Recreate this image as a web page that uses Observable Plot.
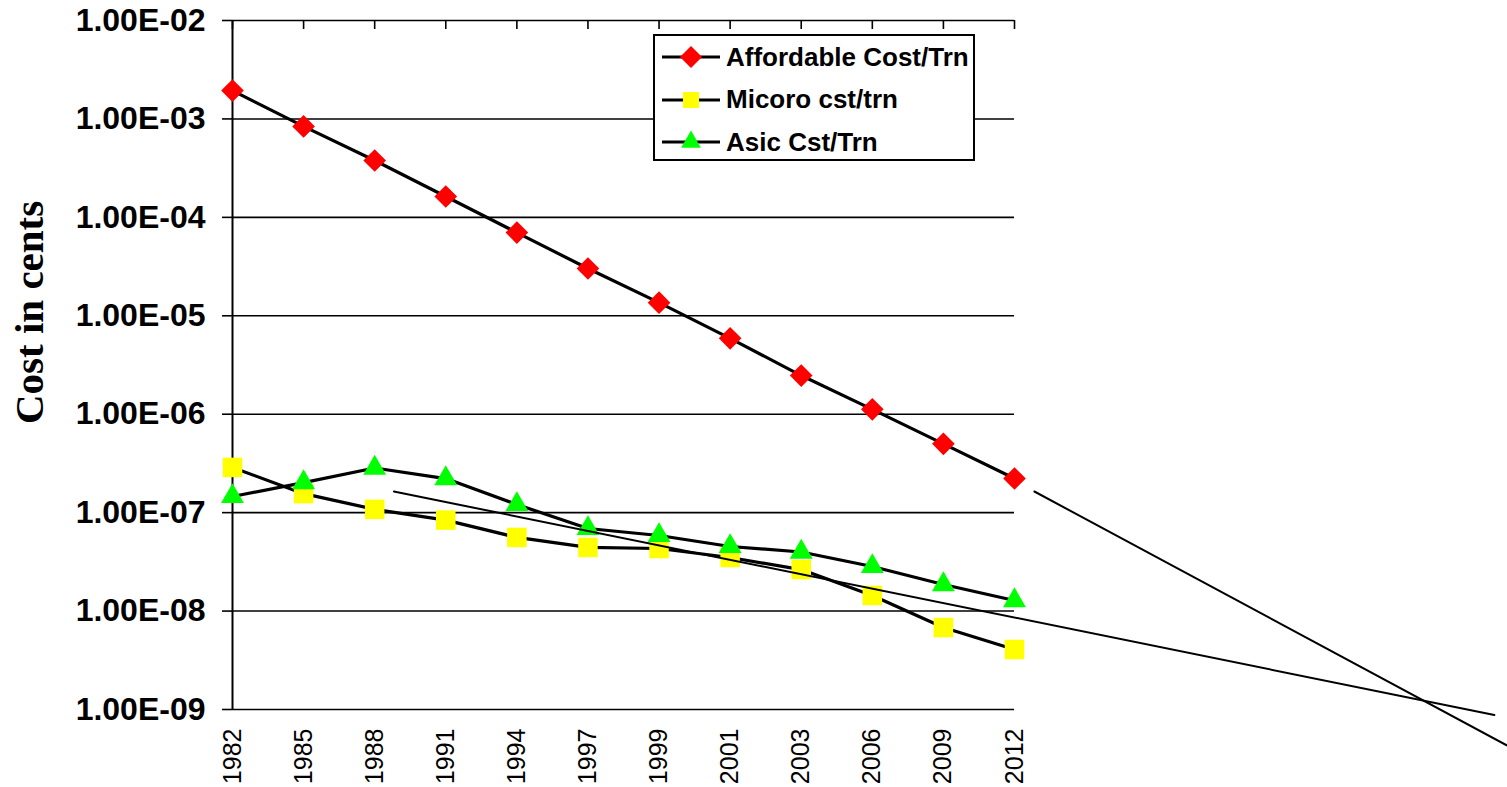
<!DOCTYPE html>
<html><head><meta charset="utf-8">
<script src="https://cdn.jsdelivr.net/npm/d3@7"></script>
<script src="https://cdn.jsdelivr.net/npm/@observablehq/plot@0.6"></script>
<style>
body{margin:0;background:#fff;}
#wrap{position:relative;width:1507px;height:787px;overflow:hidden;}
#legend{position:absolute;left:653px;top:34px;width:318px;height:123px;border:2px solid #000;background:#fff;font-family:"Liberation Sans",Arial,sans-serif;font-weight:bold;font-size:26px;color:#000;}
.row{position:absolute;left:0;height:30px;display:flex;align-items:center;white-space:nowrap;}
.row svg{display:block;margin-left:7px;margin-right:6px;}
</style></head><body><div id="wrap"></div>
<script>
const years = ["1982","1985","1988","1991","1994","1997","1999","2001","2003","2006","2009","2012"];
const affordable = [1.94e-3,8.4e-4,3.78e-4,1.63e-4,7.0e-5,3.02e-5,1.36e-5,5.9e-6,2.47e-6,1.12e-6,5.0e-7,2.22e-7];
const micro = [2.88e-7,1.56e-7,1.08e-7,8.4e-8,5.6e-8,4.43e-8,4.32e-8,3.5e-8,2.64e-8,1.44e-8,6.8e-9,4.07e-9];
const asic = [1.46e-7,2.02e-7,2.84e-7,2.22e-7,1.21e-7,6.9e-8,5.86e-8,4.53e-8,3.98e-8,2.84e-8,1.86e-8,1.28e-8];
const seriesNames = ["Affordable Cost/Trn","Micoro cst/trn","Asic Cst/Trn"];
const seriesColors = ["#ff0000","#ffff00","#00ff00"];
const seriesSymbols = ["diamond2","square","triangle"];
const yTicks = [1e-2,1e-3,1e-4,1e-5,1e-6,1e-7,1e-8,1e-9];
// hand-drawn trend lines: [category position, value]
const trendAffordable = [[11.28,1.64e-7],[17.93,4.3e-10]];
const trendMicroAsic = [[2.27,1.64e-7],[17.75,8.8e-10]];

const fmt = v => { const [m,e] = v.toExponential(2).split("e"); const n = +e; return m + "E" + (n<0?"-":"+") + String(Math.abs(n)).padStart(2,"0"); };
const idx = years.map((_,i)=>i);
const seriesData = [affordable, micro, asic].map((arr,k)=>arr.map((v,i)=>({i, v, k})));
const radii = [10.2, 11, 8.5];

const marks = [
  Plot.ruleY(yTicks, {stroke:"#000", strokeWidth:1.6}),
  Plot.axisY({ticks:yTicks, tickFormat:fmt, tickSize:10, tickPadding:17, fontSize:32, fontWeight:"bold", strokeWidth:1.6, label:null}),
  Plot.ruleX([0], {stroke:"#000", strokeWidth:2}),
  Plot.ruleX(idx, {x:d=>d, y1:1e-2, y2:8.1e-3, stroke:"#000", strokeWidth:1.6}),
  Plot.axisX({ticks:idx, tickFormat:i=>years[i], tickSize:0, tickPadding:19, tickRotate:-90, fontSize:25, label:null}),
  Plot.text(["Cost in cents"], {frameAnchor:"left", dx:-203, dy:59, rotate:-90, fontSize:41, fontWeight:"bold", fontFamily:"Liberation Serif, Times New Roman, serif", fill:"#000"})
];
seriesData.forEach((data,k)=>{
  marks.push(Plot.line(data, {x:"i", y:"v", stroke:"#000", strokeWidth:3.2}));
  marks.push(Plot.dot(data, {x:"i", y:"v", symbol:seriesSymbols[k], fill:seriesColors[k], stroke:"none", r:radii[k]}));
});
marks.push(Plot.line(trendAffordable, {x:d=>d[0], y:d=>d[1], stroke:"#000", strokeWidth:2}));
marks.push(Plot.line(trendMicroAsic, {x:d=>d[0], y:d=>d[1], stroke:"#000", strokeWidth:2}));

const chart = Plot.plot({
  width:1507, height:787, marginLeft:232, marginRight:493, marginTop:20, marginBottom:78,
  style:{fontFamily:"Liberation Sans, Arial, sans-serif", background:"white", color:"#000", overflow:"visible"},
  x:{type:"linear", domain:[0,11]},
  y:{type:"log", domain:[1e-9,1e-2]},
  marks
});
const wrap = document.getElementById("wrap");
wrap.appendChild(chart);

// legend
const legend = document.createElement("div");
legend.id = "legend";
const symMap = {diamond2: d3.symbolDiamond2, square: d3.symbolSquare, triangle: d3.symbolTriangle};
const legendSizes = [10.2*10.2*Math.PI*0.95, 16*16, 8.2*8.2*Math.PI*0.8];
seriesNames.forEach((name,k)=>{
  const row = document.createElement("div");
  row.className = "row";
  row.style.top = (6 + k*42.5) + "px";
  const svg = d3.create("svg").attr("width",58).attr("height",26);
  svg.append("line").attr("x1",0).attr("x2",58).attr("y1",13).attr("y2",13).attr("stroke","#000").attr("stroke-width",3.2);
  svg.append("path").attr("transform","translate(29,13)").attr("d", d3.symbol(symMap[seriesSymbols[k]], legendSizes[k])()).attr("fill", seriesColors[k]);
  row.appendChild(svg.node());
  const span = document.createElement("span");
  span.textContent = name;
  row.appendChild(span);
  legend.appendChild(row);
});
wrap.appendChild(legend);
</script>
</body></html>
